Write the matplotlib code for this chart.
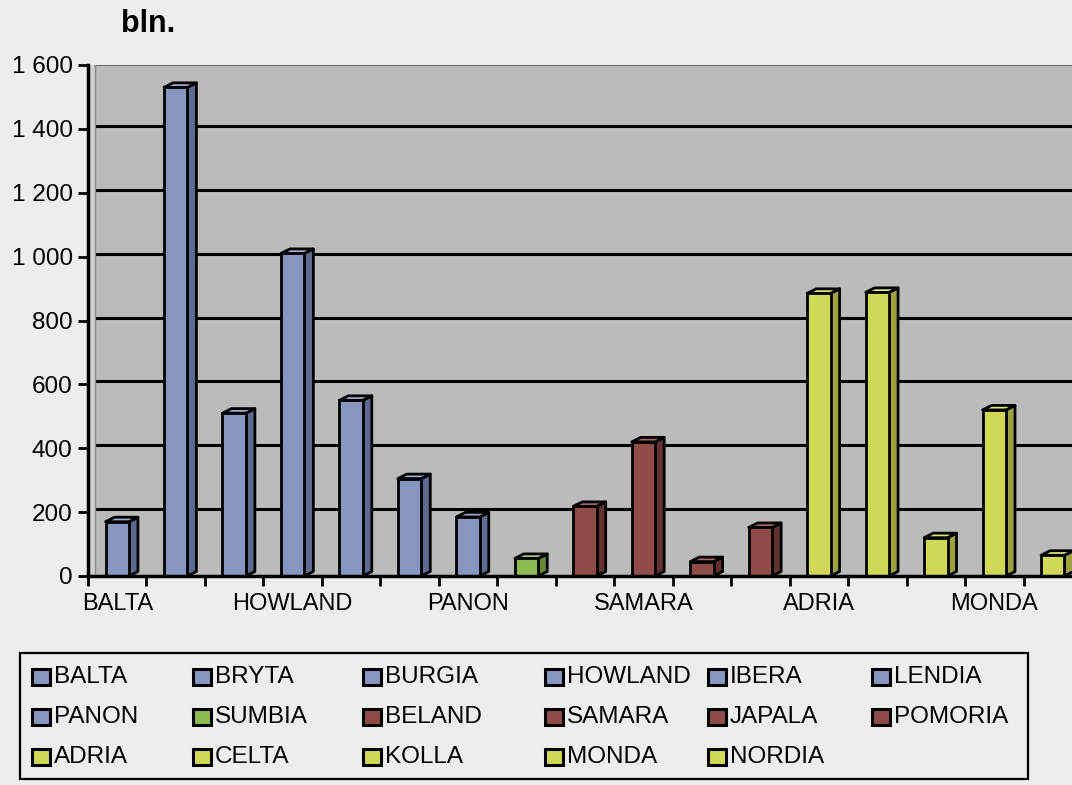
import matplotlib
matplotlib.use("Agg")
import matplotlib.pyplot as plt
from matplotlib.patches import Polygon, Rectangle

plt.rcParams['font.family'] = ['Liberation Sans', 'DejaVu Sans']

# ---- data ----
categories = ["BALTA", "BRYTA", "BURGIA", "HOWLAND", "IBERA", "LENDIA",
              "PANON", "SUMBIA", "BELAND", "SAMARA", "JAPALA", "POMORIA",
              "ADRIA", "CELTA", "KOLLA", "MONDA", "NORDIA"]
values = [170, 1530, 510, 1010, 550, 305,
          185, 55, 218, 420, 45, 152,
          885, 888, 120, 520, 65]
groups = ["blue"] * 7 + ["green"] + ["brown"] * 4 + ["yellow"] * 5
yticks = [0, 200, 400, 600, 800, 1000, 1200, 1400, 1600]
ytick_labels = ["0", "200", "400", "600", "800", "1 000", "1 200", "1 400", "1 600"]
xlabel_every = 3
unit_label = "bln."

# ---- style ----
front = {"blue": "#8796bf", "green": "#8fbc52", "brown": "#8e4b47", "yellow": "#d0d957"}
side = {"blue": "#5d6b92", "green": "#66893a", "brown": "#633230", "yellow": "#9ea23e"}
top = {"blue": "#a3b0d2", "green": "#aed27a", "brown": "#a86a64", "yellow": "#e1e67c"}
bg = "#eceeeb"
wall = "#b9bcb8"

W, H = 1072, 785
fig = plt.figure(figsize=(W / 100, H / 100), dpi=100)
fig.patch.set_facecolor(bg)

ax_left, ax_right, ax_bottom, ax_top = 88, 1082, 576, 65
ax = fig.add_axes([ax_left / W, 1 - ax_bottom / H, (ax_right - ax_left) / W, (ax_bottom - ax_top) / H])
n = len(categories)
ax.set_xlim(0, n)
ax.set_ylim(0, 1600)
ax.set_facecolor(wall)

px_x = n / (ax_right - ax_left)          # data units per pixel, x
px_y = 1600 / (ax_bottom - ax_top)        # data units per pixel, y
ddx, ddy = 9 * px_x, 4.5 * px_y           # bar depth
wdx, wdy = 7 * px_x, 3 * px_y             # wall offset

# side wall strip
ax.add_patch(Polygon([(0, 0), (wdx, wdy), (wdx, 1600), (0, 1600)], closed=True,
                     facecolor="#cfd2cd", edgecolor="none", zorder=0.5))
# back-wall grid lines
for v in yticks[1:-1]:
    ax.plot([wdx, n], [v + wdy, v + wdy], color="black", lw=2.2, zorder=1, solid_capstyle="butt")
ax.plot([wdx, n], [1600 - 1, 1600 - 1], color="#555555", lw=1.2, zorder=1)
ax.plot([wdx, wdx], [wdy, 1600], color="#888888", lw=1.0, zorder=1)

# bars
bw = 0.40
for i, (v, g) in enumerate(zip(values, groups)):
    c = i + 0.5
    x0, x1 = c - bw / 2, c + bw / 2
    ax.add_patch(Polygon([(x1, 0), (x1 + ddx, ddy), (x1 + ddx, v + ddy), (x1, v)], closed=True,
                         facecolor=side[g], edgecolor="black", lw=2.0, zorder=3, joinstyle="round"))
    ax.add_patch(Polygon([(x0, v), (x0 + ddx, v + ddy), (x1 + ddx, v + ddy), (x1, v)], closed=True,
                         facecolor=top[g], edgecolor="black", lw=2.0, zorder=3, joinstyle="round"))
    ax.bar(c, v, width=bw, color=front[g], edgecolor="black", linewidth=2.0, zorder=4)

# axes styling
for s in ["top", "right"]:
    ax.spines[s].set_visible(False)
for s in ["left", "bottom"]:
    ax.spines[s].set_linewidth(2.5)
    ax.spines[s].set_zorder(5)

ax.set_yticks(yticks)
ax.set_yticklabels(ytick_labels, fontsize=17.5)
ax.tick_params(axis="y", length=7, width=2, pad=4)

ax.set_xticks(range(n + 1))
ax.set_xticklabels([])
ax.tick_params(axis="x", which="major", length=7, width=2, direction="out")
label_pos = [i + 0.5 for i in range(0, n, xlabel_every)]
ax.set_xticks(label_pos, minor=True)
ax.set_xticklabels([categories[i] for i in range(0, n, xlabel_every)], minor=True, fontsize=17)
ax.tick_params(axis="x", which="minor", length=0, pad=12)

fig.text(121 / W, 1 - 32 / H, unit_label, fontsize=22, fontweight="bold", va="baseline", ha="left")

# ---- legend (fixed grid, row-major like the original) ----
lax = fig.add_axes([0, 0, 1, 1])
lax.set_xlim(0, W)
lax.set_ylim(H, 0)
lax.axis("off")
lax.patch.set_alpha(0)
lax.add_patch(Rectangle((20, 653), 1008, 126, facecolor="none", edgecolor="black", lw=1.6))
ncol = 6
col_x = [32, 193, 363, 545, 708, 872]
row_y = [677, 717, 757]
for i, (name, g) in enumerate(zip(categories, groups)):
    r, cidx = divmod(i, ncol)
    x, y = col_x[cidx], row_y[r]
    lax.add_patch(Rectangle((x, y - 8), 18, 16, facecolor=front[g], edgecolor="black", lw=2.2))
    lax.text(x + 22, y, name, fontsize=17.5, va="center", ha="left")

fig.savefig("out.png", dpi=100, facecolor=bg)
